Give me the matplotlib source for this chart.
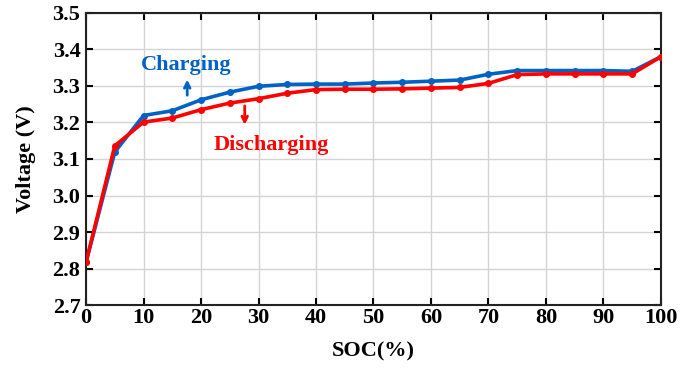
import numpy as np
import matplotlib.pyplot as plt

plt.rcParams['font.family'] = ['Liberation Serif', 'DejaVu Serif']
plt.rcParams['font.weight'] = 'bold'

soc = [0, 5, 10, 15, 20, 25, 30, 35, 40, 45, 50, 55, 60, 65, 70, 75, 80, 85, 90, 95, 100]
v_charge = [2.817, 3.119, 3.219, 3.232, 3.262, 3.283, 3.299, 3.304, 3.305, 3.305, 3.308,
            3.310, 3.313, 3.316, 3.332, 3.342, 3.342, 3.342, 3.342, 3.340, 3.380]
v_discharge = [2.817, 3.136, 3.201, 3.212, 3.235, 3.253, 3.265, 3.280, 3.290, 3.291, 3.291,
               3.292, 3.294, 3.296, 3.307, 3.331, 3.333, 3.333, 3.333, 3.333, 3.380]

blue = '#0062C4'
red = '#FF0000'

fig = plt.figure(figsize=(6.91, 3.68), dpi=100)
ax = fig.add_axes([0.1245, 0.171, 0.832, 0.794])

ax.plot(soc, v_charge, color=blue, lw=2.6, marker='o', ms=4, zorder=3)
ax.plot(soc, v_discharge, color=red, lw=2.6, marker='o', ms=4, zorder=4)

ax.set_xlim(0, 100)
ax.set_ylim(2.7, 3.5)
ax.set_xticks(np.arange(0, 101, 10))
ax.set_yticks(np.arange(2.7, 3.51, 0.1))
ax.set_yticklabels(['2.7', '2.8', '2.9', '3.0', '3.1', '3.2', '3.3', '3.4', '3.5'])
ax.grid(True, color='#d4d4d4', lw=1.0)
ax.tick_params(direction='in', top=True, right=True, labelsize=16, width=1.5, length=5, pad=2)
ax.tick_params(axis='y', pad=4)
for s in ax.spines.values():
    s.set_linewidth(1.5)
    s.set_color('#222222')

ax.set_xlabel('SOC(%)', fontsize=16, fontweight='bold', labelpad=10)
ax.set_ylabel('Voltage (V)', fontsize=16, fontweight='bold', labelpad=12)

ax.text(17.5, 3.357, 'Charging', color=blue, fontsize=16, fontweight='bold', ha='center', va='center')
ax.annotate('', xy=(17.6, 3.325), xytext=(17.6, 3.267),
            arrowprops=dict(arrowstyle='->', color=blue, lw=2))
ax.text(32.2, 3.138, 'Discharging', color=red, fontsize=16, fontweight='bold', ha='center', va='center')
ax.annotate('', xy=(27.6, 3.186), xytext=(27.6, 3.253),
            arrowprops=dict(arrowstyle='->', color=red, lw=2))

fig.savefig('out.png', dpi=100)
